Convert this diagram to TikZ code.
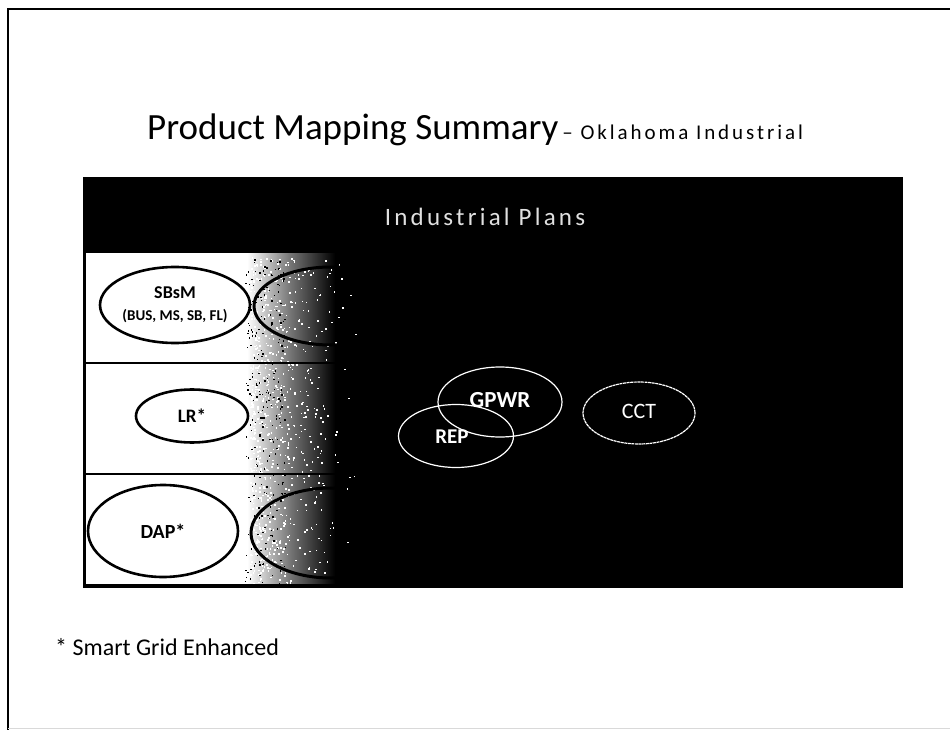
\documentclass[tikz,border=0pt]{standalone}
\usepackage{fontspec}
\setmainfont{Carlito}
\usetikzlibrary{shapes.geometric}
\tikzset{
  planoval/.style={ellipse, draw=black, line width=2.6pt, inner sep=0pt, text=black, font=\bfseries},
  darkoval/.style={ellipse, draw=white, line width=1.2pt, inner sep=0pt, text=white},
  rowline/.style={line width=2.6pt, black},
}
\newcommand{\fsz}[1]{\fontsize{#1}{#1}\selectfont}
\begin{document}
\begin{tikzpicture}[x=1pt,y=-1pt]
\useasboundingbox (0,0) rectangle (950,730);
\fill[white] (0,0) rectangle (950,730);
% page frame
\draw[line width=1.6pt] (8,730) -- (8,9) -- (950,9);
\draw[black!15, line width=0.8pt] (8,728) -- (950,728);

% title line
\node[anchor=base west, inner sep=0pt] (title) at (147,140) {\fsz{37}Product Mapping Summary};
\node[anchor=base west, inner sep=0pt] (subtitle) at (title.base east) {\fsz{21}\addfontfeature{LetterSpace=14}\,\textendash\ Oklahoma Industrial};

% black panel
\fill[black] (83,177) rectangle (903,588);
\node[text=black!12, inner sep=0pt] (header) at (485,217) {\fsz{25}\addfontfeature{LetterSpace=13}Industrial Plans};

% white left band fading into the black panel
\fill[white] (86,252) rectangle (248,585);
\shade[left color=white, right color=black, middle color=black!55] (247,252) rectangle (335,585);
\pgfmathsetseed{7}
\foreach \i in {1,...,800} {
  \pgfmathsetmacro{\px}{250+110*rnd*rnd}
  \pgfmathsetmacro{\py}{255+328*rnd}
  \fill[white] (\px,\py) rectangle ++(1.6,1.6);
}
\foreach \i in {1,...,250} {
  \pgfmathsetmacro{\px}{245+40*rnd}
  \pgfmathsetmacro{\py}{255+328*rnd}
  \fill[black] (\px,\py) rectangle ++(1.4,1.4);
}

% partly hidden ovals behind the fade
\begin{scope}
  \clip (86,252) rectangle (345,585);
  \node[ellipse, draw=black, line width=3pt, minimum width=154pt, minimum height=78pt] (hidA) at (331,306) {};
  \node[ellipse, draw=black, line width=3pt, minimum width=160pt, minimum height=90pt] (hidB) at (331,533) {};
\end{scope}

% row separators
\draw[rowline] (83,252) -- (345,252);
\draw[rowline] (83,363) -- (345,363);
\draw[rowline] (83,474) -- (345,474);
\draw[rowline] (83,585) -- (345,585);
\draw[rowline] (84.5,252) -- (84.5,586);

% plans in the white band
\node[planoval, minimum width=150pt, minimum height=76pt, align=center] (sbsm) at (175,305)
  {\fsz{18}SBsM\\[10pt]\fsz{15}(BUS, MS, SB, FL)};
\node[planoval, minimum width=112pt, minimum height=53pt] (lr) at (192,416) {\fsz{19}LR*};
\node[planoval, minimum width=150pt, minimum height=92pt] (dap) at (163,531) {\fsz{20}DAP*};

% plans on the black panel
\node[darkoval, minimum width=124pt, minimum height=70pt] (gpwr) at (500,402) {};
\node[darkoval, minimum width=115pt, minimum height=63pt] (rep) at (456,436) {};
\node[text=white, font=\bfseries\fsz{23}] (gpwrlabel) at (500,400) {GPWR};
\node[text=white, font=\bfseries\fsz{21}] (replabel) at (452,437) {REP};
\node[darkoval, dashed, dash pattern=on 3pt off 0.6pt, minimum width=112pt, minimum height=62pt] (cct) at (639,413) {};
\node[text=white, font=\fsz{22}] (cctlabel) at (639,411) {CCT};

% footnote
\node[anchor=base west, inner sep=0pt] (note) at (55,655) {\fsz{24}* Smart Grid Enhanced};
\end{tikzpicture}
\end{document}
